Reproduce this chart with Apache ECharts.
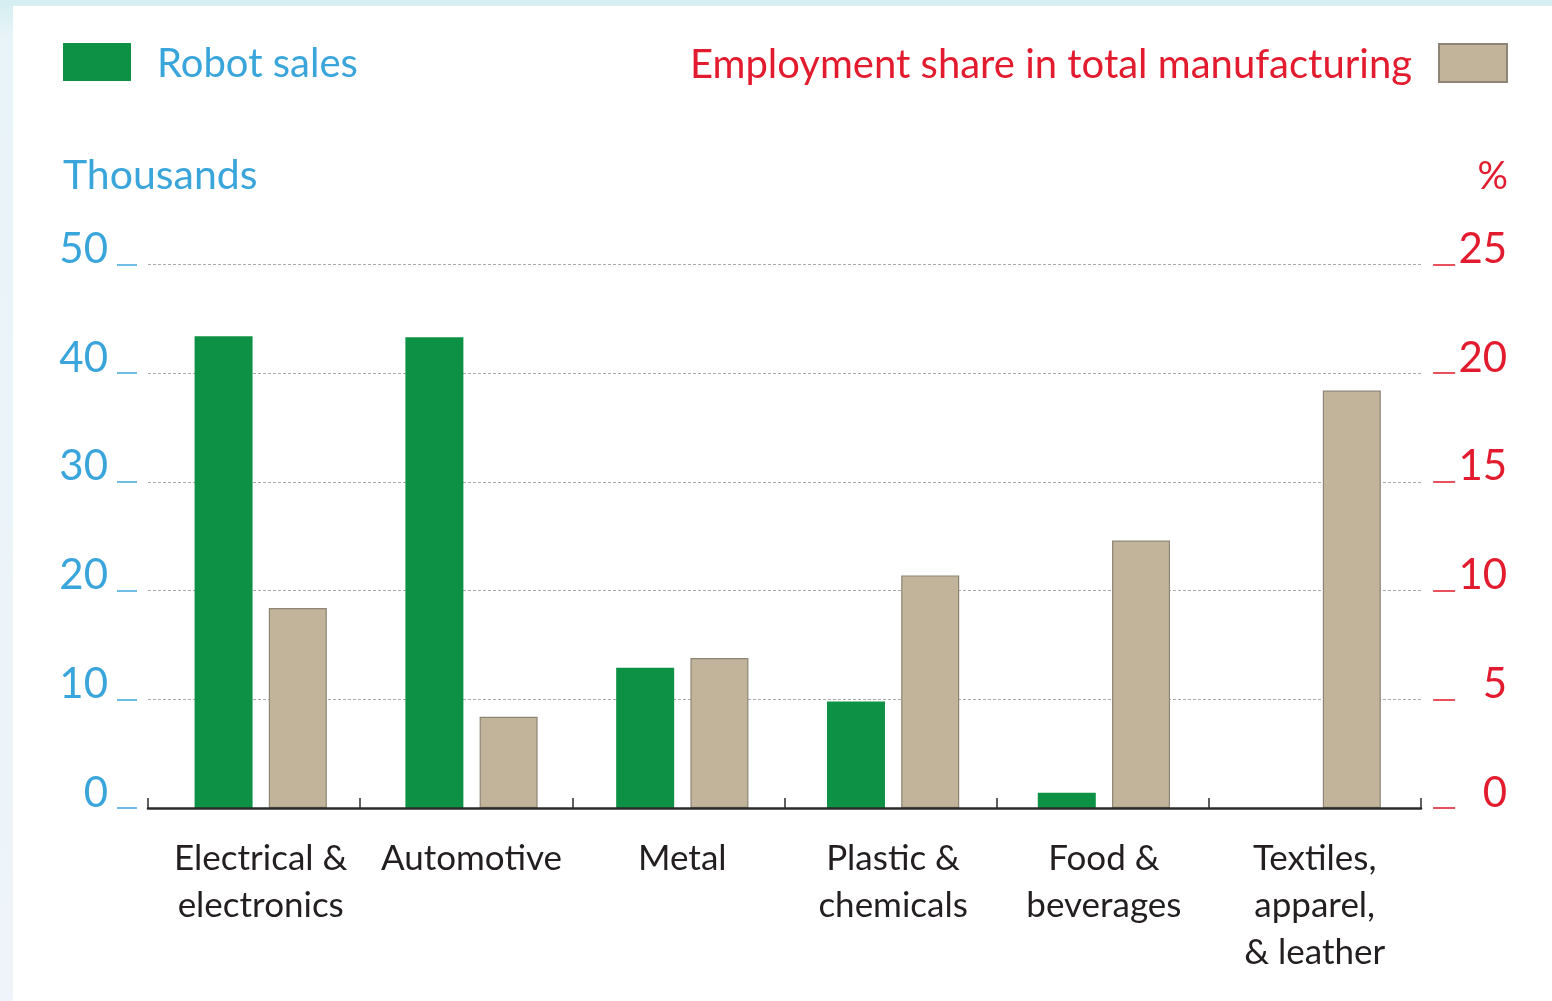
<!DOCTYPE html>
<html>
<head>
<meta charset="utf-8">
<script src="https://cdn.jsdelivr.net/npm/echarts@6/dist/echarts.min.js"></script>
<style>
  html, body { margin: 0; padding: 0; width: 1552px; height: 1001px; overflow: hidden; }
  body { background: linear-gradient(to bottom, #d4eef1 0px, #e9f4f8 40px, #eef4f9 100%); position: relative; }
  #panel { position: absolute; left: 13px; top: 6px; right: 0; bottom: 0; background: #ffffff; }
  #chart { position: absolute; left: 0; top: 0; width: 1552px; height: 1001px; }
</style>
</head>
<body>
<div id="panel"></div>
<div id="chart"></div>
<script>
// Industries along the horizontal axis
const categories = [
  'Electrical &\nelectronics',
  'Automotive',
  'Metal',
  'Plastic &\nchemicals',
  'Food &\nbeverages',
  'Textiles,\napparel,\n& leather'
];
// Robot sales, thousands (left axis)
const robotSales = [43.4, 43.3, 12.9, 9.8, 1.4, 0];
// Employment share in total manufacturing, % (right axis)
const employmentShare = [9.2, 4.2, 6.9, 10.7, 12.3, 19.2];
// Axis tick values
const leftTicks = [0, 10, 20, 30, 40, 50];
const rightTicks = [0, 5, 10, 15, 20, 25];

const FONT = 'Lato';
const BLUE = '#39a5db';
const RED = '#e21c2e';
const GREEN = '#0c9145';
const TAN = '#c2b49a';

const chart = echarts.init(document.getElementById('chart'), null, { renderer: 'canvas' });

const option = {
  backgroundColor: 'transparent',
  animation: false,
  grid: [
    // bars and labels
    { left: 155.3, top: 264.5, width: 1264.8, height: 543.5 },
    // baseline, boundary ticks and dotted guides
    { left: 148, top: 264.5, width: 1273, height: 543.5 }
  ],
  legend: [
    {
      data: ['Robot sales'],
      left: 63, top: 43, padding: 0,
      itemWidth: 68, itemHeight: 38, icon: 'rect',
      selectedMode: false,
      formatter: n => '{t|' + n + '}',
      textStyle: { rich: { t: { fontFamily: FONT, fontSize: 40, color: BLUE, padding: [5, 0, 0, 21] } } }
    },
    {
      data: ['Employment share in total manufacturing'],
      right: 44, top: 43, padding: 0, align: 'right',
      itemWidth: 68, itemHeight: 38, icon: 'rect',
      selectedMode: false,
      formatter: n => '{t|' + n + '}',
      textStyle: { rich: { t: { fontFamily: FONT, fontSize: 40, color: RED, padding: [5, 22, 0, 0] } } }
    }
  ],
  graphic: [
    { type: 'text', left: 63, top: 155, style: { text: 'Thousands', font: '41px Lato', fill: BLUE } },
    { type: 'text', right: 44, top: 158, style: { text: '%', font: '38px Lato', fill: RED } }
  ],
  xAxis: [
    {
      type: 'category', gridIndex: 0, data: categories,
      axisLine: { show: false }, axisTick: { show: false },
      axisLabel: {
        interval: 0, margin: 27, fontFamily: FONT, fontSize: 35, lineHeight: 47,
        color: '#231f20', align: 'center'
      }
    },
    {
      type: 'category', gridIndex: 1, data: categories, z: 5,
      axisLine: { show: true, lineStyle: { color: '#2b2b2b', width: 2.5 } },
      axisTick: { show: true, inside: true, length: 10, lineStyle: { color: '#2b2b2b', width: 1.5 } },
      axisLabel: { show: false }
    }
  ],
  yAxis: [
    {
      type: 'value', gridIndex: 0, min: leftTicks[0], max: leftTicks[leftTicks.length - 1], interval: 10,
      position: 'left', offset: 18.3,
      axisLine: { show: false },
      axisTick: { show: true, length: 20, lineStyle: { color: '#6fbde5', width: 2 } },
      splitLine: { show: false },
      axisLabel: {
        margin: 29, fontFamily: FONT, fontSize: 42, lineHeight: 30, color: BLUE,
        align: 'right', verticalAlign: 'bottom',
        customValues: leftTicks
      }
    },
    {
      type: 'value', gridIndex: 0, min: rightTicks[0], max: rightTicks[rightTicks.length - 1], interval: 5,
      position: 'right', offset: 13,
      axisLine: { show: false },
      axisTick: { show: true, length: 22, lineStyle: { color: '#e8505c', width: 2 } },
      splitLine: { show: false },
      axisLabel: {
        margin: 74, fontFamily: FONT, fontSize: 42, lineHeight: 30, color: RED,
        align: 'right', verticalAlign: 'bottom',
        customValues: rightTicks
      }
    },
    {
      type: 'value', gridIndex: 1, min: 0, max: 50, interval: 10,
      axisLine: { show: false }, axisTick: { show: false }, axisLabel: { show: false },
      splitLine: { show: true, lineStyle: { color: '#a9a9a9', width: 1, type: [3, 2] } }
    }
  ],
  series: [
    {
      name: 'Robot sales', type: 'bar', xAxisIndex: 0, yAxisIndex: 0,
      data: robotSales, barWidth: 58, barGap: '28%',
      itemStyle: { color: GREEN, borderWidth: 0 },
      emphasis: { disabled: true }
    },
    {
      name: 'Employment share in total manufacturing', type: 'bar', xAxisIndex: 0, yAxisIndex: 1,
      data: employmentShare, barWidth: 58, barGap: '28%',
      itemStyle: { color: TAN, borderColor: '#8e8576', borderWidth: 1.2 },
      emphasis: { disabled: true }
    }
  ]
};

chart.setOption(option);
</script>
</body>
</html>
